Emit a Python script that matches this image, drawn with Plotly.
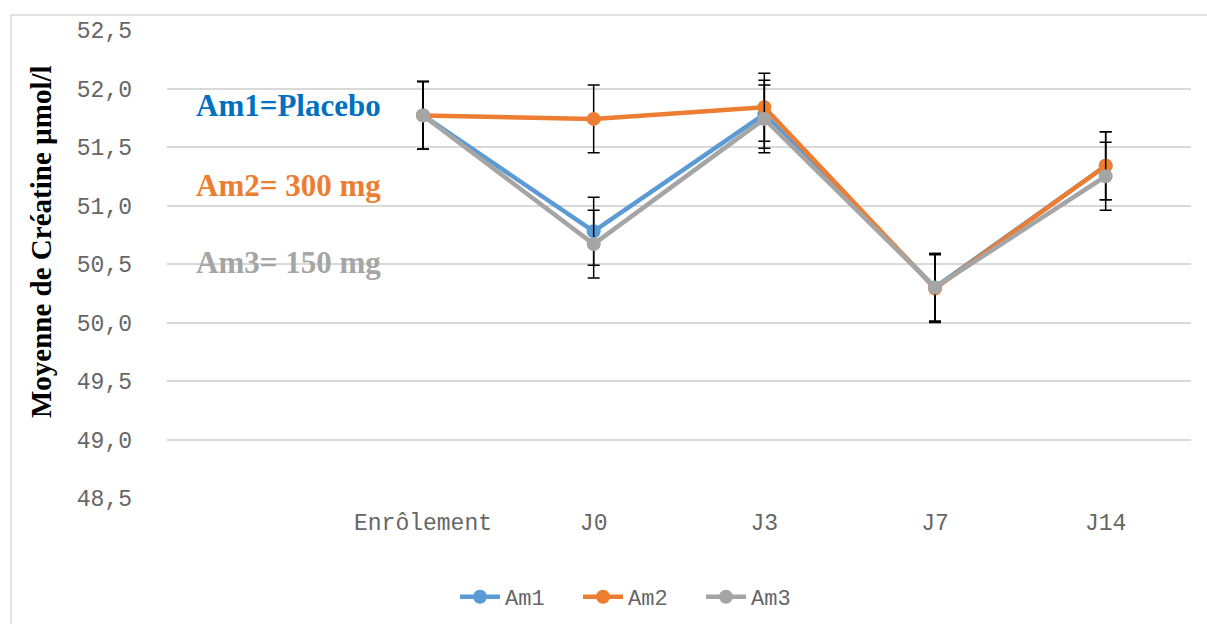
import plotly.graph_objects as go

# Time points and mean creatinine values (µmol/l) per arm
categories = ["Enrôlement", "J0", "J3", "J7", "J14"]
am1_mean = [51.77, 50.78, 51.78, 50.30, 51.34]
am2_mean = [51.77, 51.74, 51.84, 50.29, 51.34]
am3_mean = [51.77, 50.67, 51.74, 50.30, 51.25]
am1_err = [0.29, 0.29, 0.29, 0.29, 0.29]
am2_err = [0.29, 0.29, 0.29, 0.29, 0.29]
am3_err = [0.29, 0.29, 0.29, 0.29, 0.29]

series_names = ["Am1", "Am2", "Am3"]
series_colors = ["#5B9BD5", "#ED7D31", "#A5A5A5"]

W, H = 1207, 624
ML, MR, MT, MB = 167, 16, 30, 126
PW, PH = W - ML - MR, H - MT - MB


def px_x(x):
    return (x - ML) / PW


def px_y(y):
    return (H - MB - y) / PH


fig = go.Figure()
for name, color, mean, err in zip(series_names, series_colors,
                                  [am1_mean, am2_mean, am3_mean],
                                  [am1_err, am2_err, am3_err]):
    fig.add_trace(go.Scatter(
        x=categories, y=mean, name=name, mode="lines+markers",
        line=dict(color=color, width=4.5),
        marker=dict(color=color, size=14, symbol="circle"),
        error_y=dict(type="data", array=err, visible=True,
                     color="#000000", thickness=1.5, width=6),
    ))

tick_font = dict(family="Liberation Mono, Courier New, monospace", size=23, color="#666666")

fig.update_xaxes(
    type="category", categoryorder="array", categoryarray=categories,
    range=[-1.5, 4.5], showgrid=False, zeroline=False, showline=False,
    ticks="", tickfont=tick_font, ticklabelstandoff=8, automargin=False,
)
fig.update_yaxes(
    range=[48.5, 52.5], dtick=0.5, tick0=48.5, tickformat=".1f",
    showgrid=True, gridcolor="#D9D9D9", gridwidth=1.5,
    zeroline=False, showline=False, ticks="", tickfont=tick_font,
    ticklabelstandoff=34, automargin=False,
)

annotations = [
    dict(text="<b>Moyenne de Créatine µmol/l</b>", textangle=-90,
         x=px_x(41), y=px_y(242), xanchor="center", yanchor="middle",
         font=dict(family="Liberation Serif, Times New Roman, serif", size=29, color="#000000")),
    dict(text="<b>Am1=Placebo</b>", x=px_x(194), y=px_y(105),
         xanchor="left", yanchor="middle",
         font=dict(family="Liberation Serif, Times New Roman, serif", size=31, color="#0070C0")),
    dict(text="<b>Am2= 300 mg</b>", x=px_x(194), y=px_y(185),
         xanchor="left", yanchor="middle",
         font=dict(family="Liberation Serif, Times New Roman, serif", size=31, color="#ED7D31")),
    dict(text="<b>Am3= 150 mg</b>", x=px_x(194), y=px_y(262),
         xanchor="left", yanchor="middle",
         font=dict(family="Liberation Serif, Times New Roman, serif", size=31, color="#A5A5A5")),
]
for a in annotations:
    a.update(xref="paper", yref="paper", showarrow=False)

fig.update_layout(
    width=W, height=H,
    margin=dict(l=ML, r=MR, t=MT, b=MB, autoexpand=False),
    paper_bgcolor="white", plot_bgcolor="white",
    separators=", ",
    annotations=annotations,
    showlegend=True,
    legend=dict(orientation="h", x=px_x(455), y=px_y(597),
                xanchor="left", yanchor="middle",
                font=dict(family="Liberation Mono, Courier New, monospace", size=22, color="#666666"),
                entrywidth=68, entrywidthmode="pixels",
                itemwidth=40, bgcolor="rgba(0,0,0,0)"),
    shapes=[dict(type="rect", xref="paper", yref="paper",
                 x0=px_x(11), x1=px_x(1230), y0=px_y(650), y1=px_y(15),
                 line=dict(color="#D9D9D9", width=1.5), layer="below")],
)

fig.write_html("out.html")
